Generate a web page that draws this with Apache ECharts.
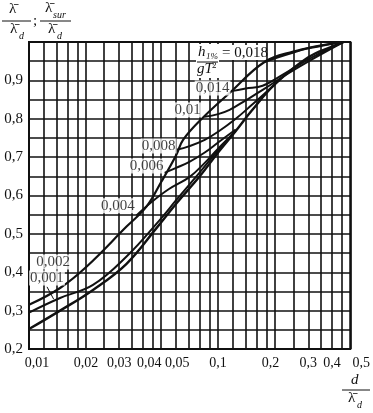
<!DOCTYPE html>
<html><head><meta charset="utf-8">
<script src="https://cdn.jsdelivr.net/npm/echarts@6/dist/echarts.min.js"></script>
<style>html,body{margin:0;padding:0;background:#fff}#c{width:373px;height:413px}</style>
</head><body><div id="c"></div>
<script>
// x grid values (d / lambda_d), log scale
const xGrid = [0.01,0.012,0.014,0.016,0.018,0.02,0.025,0.03,0.035,0.04,0.045,0.05,0.06,0.07,0.08,0.09,0.1,0.12,0.14,0.16,0.18,0.2,0.25,0.3,0.35,0.4,0.45,0.5];
const xLabels = [0.01,0.02,0.03,0.04,0.05,0.1,0.2,0.3,0.4,0.5];
// curves: [d/lambda_d, ratio]
const curveLinear = [[0.01,0.252],[0.0146,0.300],[0.0218,0.354],[0.0328,0.422],[0.0472,0.515],[0.0603,0.580],[0.08,0.650],[0.1,0.712],[0.124,0.768],[0.15,0.820],[0.2,0.890],[0.3,0.960],[0.4,0.988],[0.46,1.0]];
const curve001 = [[0.01,0.295],[0.0146,0.333],[0.0218,0.367],[0.0328,0.441],[0.0491,0.536],[0.0603,0.589],[0.08,0.66],[0.1,0.718],[0.124,0.768]];
const curve002 = [[0.01,0.315],[0.0146,0.359],[0.0202,0.415],[0.0328,0.519],[0.0418,0.571],[0.05,0.635],[0.06,0.705],[0.0653,0.745],[0.0828,0.802],[0.115,0.867],[0.176,0.948],[0.25,0.975],[0.35,0.99],[0.46,1.0]];
const curve004 = [[0.037,0.548],[0.045,0.585],[0.055,0.617],[0.0705,0.648],[0.085,0.685],[0.1,0.722],[0.124,0.768]];
const curve006 = [[0.052,0.659],[0.06,0.672],[0.0705,0.6875],[0.085,0.712],[0.1,0.738],[0.124,0.772]];
const curve008 = [[0.0604,0.719],[0.07,0.728],[0.085,0.745],[0.1,0.766],[0.124,0.80],[0.15,0.835],[0.2,0.89]];
const curve010 = [[0.0846,0.805],[0.1,0.812],[0.115,0.823],[0.14,0.848],[0.172,0.875],[0.236,0.919],[0.314,0.955],[0.46,1.0]];
const curve014 = [[0.118,0.872],[0.14,0.879],[0.172,0.886],[0.22,0.915],[0.314,0.96],[0.46,1.0]];
const curve018 = [[0.176,0.948],[0.21,0.961],[0.26,0.975],[0.315,0.987],[0.46,1.0]];
const pointer001 = [[0.01245,0.362],[0.0135,0.33]];
// annotation labels: [d, ratio, text]
const notes = [[0.01245,0.385,'0,001'],[0.0134,0.427,'0,002'],[0.0295,0.573,'0,004'],[0.0419,0.677,'0,006'],[0.0485,0.729,'0,008'],[0.069,0.823,'0,01'],[0.0935,0.880,'0,014']];

const FONT = '"Liberation Serif", "DejaVu Serif", serif';
const labelShift = {0.01:'p16', 0.04:'p13', 0.05:'p32', 0.2:'r9', 0.5:'p22'};
const chart = echarts.init(document.getElementById('c'));
const lineSeries = (d, w) => ({type:'line', data:d, smooth:0.4, symbol:'none', lineStyle:{color:'#111', width:w||2}, z:3});
const rt = {fontFamily:FONT, fontSize:14, color:'#111'};
const pad = (p) => Object.assign({padding:p}, rt);
chart.setOption({
  animation:false,
  grid:{left:29, right:22, top:42, bottom:64, show:true, borderColor:'#111', borderWidth:2},
  xAxis:{type:'log', logBase:10, min:0.01, max:0.5,
    axisLine:{show:false},
    axisTick:{show:false, customValues:xGrid},
    splitLine:{show:true, lineStyle:{color:'#111', width:1.6}},
    axisLabel:{customValues:xLabels, margin:7, fontFamily:FONT, fontSize:14, color:'#111',
      formatter:v=>{const key=+v.toFixed(2); const s=String(key).replace('.',','); const k=labelShift[key]; return k?('{'+k+'|'+s+'}'):s;},
      rich:{p16:pad([0,0,0,16]), p13:pad([0,0,0,13]), p32:pad([0,0,0,32]), p22:pad([0,0,0,22]), r9:pad([0,9,0,0])}}},
  yAxis:{type:'value', min:0.2, max:1.0, interval:0.05,
    axisLine:{show:false}, axisTick:{show:false},
    splitLine:{show:true, lineStyle:{color:'#111', width:1.6}},
    axisLabel:{margin:6, fontFamily:FONT, fontSize:15, color:'#111',
      formatter:v=>{const t=Math.round(v*100); return (t%10===0 && t<100)? ('0,'+(t/10)) : '';}}},
  series:[
    lineSeries(curveLinear, 2.4), lineSeries(curve001), lineSeries(curve002, 2.2), lineSeries(curve004),
    lineSeries(curve006), lineSeries(curve008), lineSeries(curve010), lineSeries(curve014), lineSeries(curve018),
    Object.assign(lineSeries(pointer001, 1), {smooth:false}),
    {type:'scatter', symbolSize:0, z:5, data:notes.map(n=>({value:[n[0],n[1]], name:n[2]})),
      label:{show:true, formatter:p=>p.name, fontFamily:FONT, fontSize:15, color:'#111', backgroundColor:'#fff', padding:[0,1], position:'inside'}}
  ],
  graphic:[
    {type:'text', left:9, top:2, style:{text:'λ\u0304', font:'15px '+FONT, fill:'#111'}},
    {type:'line', shape:{x1:2,y1:21,x2:31,y2:21}, style:{stroke:'#111', lineWidth:1}},
    {type:'text', left:10, top:22, style:{text:'λ\u0304', font:'15px '+FONT, fill:'#111'}},
    {type:'text', left:19, top:31, style:{text:'d', font:'italic 10px '+FONT, fill:'#111'}},
    {type:'text', left:33, top:14, style:{text:';', font:'15px '+FONT, fill:'#111'}},
    {type:'text', left:45, top:1, style:{text:'λ\u0304', font:'15px '+FONT, fill:'#111'}},
    {type:'text', left:53, top:10, style:{text:'sur', font:'italic 10px '+FONT, fill:'#111'}},
    {type:'line', shape:{x1:40,y1:21,x2:71,y2:21}, style:{stroke:'#111', lineWidth:1}},
    {type:'text', left:48, top:22, style:{text:'λ\u0304', font:'15px '+FONT, fill:'#111'}},
    {type:'text', left:57, top:31, style:{text:'d', font:'italic 10px '+FONT, fill:'#111'}},
    {type:'text', left:351, top:373, style:{text:'d', font:'italic 15px '+FONT, fill:'#111'}},
    {type:'line', shape:{x1:342,y1:390,x2:370,y2:390}, style:{stroke:'#111', lineWidth:1}},
    {type:'text', left:348, top:391, style:{text:'λ\u0304', font:'15px '+FONT, fill:'#111'}},
    {type:'text', left:357, top:400, style:{text:'d', font:'italic 10px '+FONT, fill:'#111'}},
    {type:'rect', shape:{x:196,y:44,width:23,height:34}, style:{fill:'#fff'}, z:10},
    {type:'rect', shape:{x:219,y:45,width:44,height:15}, style:{fill:'#fff'}, z:10},
    {type:'text', left:198, top:45, z:11, style:{text:'h', font:'italic 15px '+FONT, fill:'#111'}},
    {type:'text', left:206, top:52, z:11, style:{text:'1%', font:'italic 9px '+FONT, fill:'#111'}},
    {type:'text', left:222, top:46, z:11, style:{text:'= 0,018', font:'15px '+FONT, fill:'#111'}},
    {type:'line', z:11, shape:{x1:197,y1:62,x2:218,y2:62}, style:{stroke:'#111', lineWidth:1}},
    {type:'text', left:197, top:62, z:11, style:{text:'gT', font:'italic 15px '+FONT, fill:'#111'}},
    {type:'text', left:212, top:61, z:11, style:{text:'2', font:'9px '+FONT, fill:'#111'}}
  ]
});
</script></body></html>
